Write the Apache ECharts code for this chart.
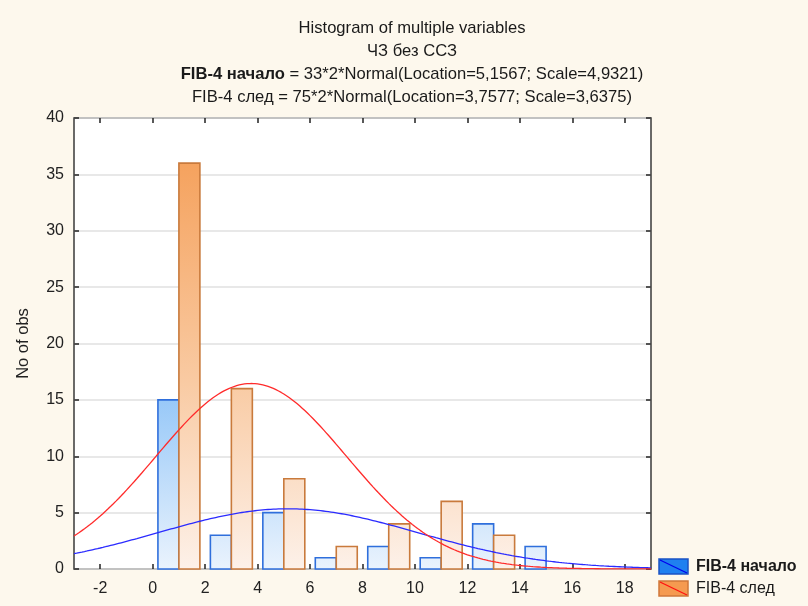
<!DOCTYPE html>
<html>
<head>
<meta charset="utf-8">
<script src="https://cdn.jsdelivr.net/npm/echarts@6/dist/echarts.min.js"></script>
<style>
  html, body { margin: 0; padding: 0; background: #fdf8ed; }
  #chart { width: 808px; height: 606px; }
</style>
</head>
<body>
<div id="chart"></div>
<script>
// Histogram bins (left edge of each 2-wide bin) and counts per variable
const binStarts = [0, 2, 4, 6, 8, 10, 12, 14];
const nachaloCounts = [15, 3, 5, 1, 2, 1, 4, 2];
const sledCounts = [36, 16, 8, 2, 4, 6, 3, 0];

// Fitted normal curves: N * binWidth * Normal(location, scale)
const nachaloFit = [33, 2, 5.1567, 4.9321];
const sledFit = [75, 2, 3.7577, 3.6375];

// Axis tick labels
const xTickValues = [-2, 0, 2, 4, 6, 8, 10, 12, 14, 16, 18];
const yTickValues = [0, 5, 10, 15, 20, 25, 30, 35, 40];

const titleLines = [
  'Histogram of multiple variables',
  'ЧЗ без ССЗ',
  'FIB-4 начало = 33*2*Normal(Location=5,1567; Scale=4,9321)',
  'FIB-4 след = 75*2*Normal(Location=3,7577; Scale=3,6375)'
];
const seriesNames = ['FIB-4 начало', 'FIB-4 след'];

const FONT = '"Liberation Sans", Arial, sans-serif';
const X_MIN = -3, X_MAX = 19, Y_MIN = 0, Y_MAX = 40;

function normalCurve(fit) {
  const [n, w, mu, sigma] = fit;
  const pts = [];
  for (let x = X_MIN; x <= X_MAX + 1e-9; x += 0.05) {
    const z = (x - mu) / sigma;
    pts.push([x, n * w * Math.exp(-0.5 * z * z) / (sigma * Math.sqrt(2 * Math.PI))]);
  }
  return pts;
}

function barRenderer(offA, offB, stops, stroke) {
  return function (params, api) {
    const x0 = api.value(0);
    const v = api.value(1);
    if (!(v > 0)) return null;
    const p0 = api.coord([x0 + offA, v]);
    const p1 = api.coord([x0 + offB, 0]);
    const top = api.coord([0, Y_MAX])[1];
    const bottom = api.coord([0, Y_MIN])[1];
    return {
      type: 'rect',
      shape: { x: p0[0], y: p0[1], width: p1[0] - p0[0], height: p1[1] - p0[1] },
      style: {
        fill: {
          type: 'linear', x: 0, y: top, x2: 0, y2: bottom, global: true,
          colorStops: stops
        },
        stroke: stroke,
        lineWidth: 1.6
      }
    };
  };
}

const blueStops = [
  { offset: 0, color: '#4f9cf4' },
  { offset: 0.62, color: '#97c8f8' },
  { offset: 1, color: '#eaf3fd' }
];
const orangeStops = [
  { offset: 0, color: '#f49a50' },
  { offset: 0.58, color: '#f9caa2' },
  { offset: 1, color: '#fdf1e9' }
];

const chart = echarts.init(document.getElementById('chart'), null, { renderer: 'canvas' });

const axisCommon = { fontFamily: FONT, fontSize: 16, color: '#222' };
const TITLE_FONT = '16.6px ' + FONT;

chart.setOption({
  backgroundColor: '#fdf8ed',
  animation: false,
  grid: {
    left: 74, right: 157, top: 118, bottom: 37,
    show: true, backgroundColor: '#ffffff', borderColor: '#3a3a3a', borderWidth: 1.5
  },
  xAxis: [
    {
      type: 'value', min: X_MIN, max: X_MAX,
      axisLine: { show: false, onZero: false },
      axisTick: { show: true, inside: true, length: 5, customValues: xTickValues, lineStyle: { color: '#222', width: 1.5 } },
      axisLabel: Object.assign({ customValues: xTickValues, margin: 12 }, axisCommon),
      splitLine: { show: false }
    },
    {
      type: 'value', min: X_MIN, max: X_MAX, position: 'top',
      axisLine: { show: false, onZero: false },
      axisTick: { show: true, inside: true, length: 5, customValues: xTickValues, lineStyle: { color: '#222', width: 1.5 } },
      axisLabel: { show: false },
      splitLine: { show: false }
    }
  ],
  yAxis: [
    {
      type: 'value', min: Y_MIN, max: Y_MAX, interval: 5,
      name: 'No of obs', nameLocation: 'middle', nameGap: 42,
      nameTextStyle: { fontFamily: FONT, fontSize: 16.5, color: '#222' },
      axisLine: { show: false, onZero: false },
      axisTick: { show: true, inside: true, length: 5, customValues: yTickValues, lineStyle: { color: '#222', width: 1.5 } },
      axisLabel: Object.assign({ customValues: yTickValues, margin: 10 }, axisCommon),
      splitLine: { show: true, lineStyle: { color: '#e0e0e0', width: 1.5 } }
    },
    {
      type: 'value', min: Y_MIN, max: Y_MAX, interval: 5, position: 'right',
      axisLine: { show: false, onZero: false },
      axisTick: { show: true, inside: true, length: 5, customValues: yTickValues, lineStyle: { color: '#222', width: 1.5 } },
      axisLabel: { show: false },
      splitLine: { show: false }
    }
  ],
  series: [
    {
      name: seriesNames[0], type: 'custom',
      renderItem: barRenderer(0.2, 1.0, blueStops, '#2f6fdc'),
      encode: { x: 0, y: 1 },
      data: binStarts.map((b, i) => [b, nachaloCounts[i]]),
      z: 2
    },
    {
      name: seriesNames[1], type: 'custom',
      renderItem: barRenderer(1.0, 1.8, orangeStops, '#c97a3c'),
      encode: { x: 0, y: 1 },
      data: binStarts.map((b, i) => [b, sledCounts[i]]),
      z: 2
    },
    {
      name: seriesNames[0] + ' fit', type: 'line', showSymbol: false, smooth: false,
      data: normalCurve(nachaloFit),
      lineStyle: { color: '#2b2bff', width: 1.3 }, z: 3
    },
    {
      name: seriesNames[1] + ' fit', type: 'line', showSymbol: false, smooth: false,
      data: normalCurve(sledFit),
      lineStyle: { color: '#ff2b2b', width: 1.3 }, z: 3
    }
  ],
  graphic: [
    { type: 'text', x: 412, y: 28, style: { text: titleLines[0], font: TITLE_FONT, fill: '#1a1a1a', align: 'center', verticalAlign: 'middle' } },
    { type: 'text', x: 412, y: 51, style: { text: titleLines[1], font: TITLE_FONT, fill: '#1a1a1a', align: 'center', verticalAlign: 'middle' } },
    {
      type: 'text', x: 412, y: 74,
      style: {
        text: '{b|' + seriesNames[0] + '}' + titleLines[2].slice(seriesNames[0].length),
        font: TITLE_FONT, fill: '#1a1a1a', align: 'center', verticalAlign: 'middle',
        rich: { b: { font: 'bold ' + TITLE_FONT, fill: '#1a1a1a' } }
      }
    },
    { type: 'text', x: 412, y: 97, style: { text: titleLines[3], font: TITLE_FONT, fill: '#1a1a1a', align: 'center', verticalAlign: 'middle' } },

    // Legend
    { type: 'rect', shape: { x: 659, y: 559, width: 29, height: 15 }, style: { fill: '#1f80f0', stroke: '#1a52c4', lineWidth: 1.5 } },
    { type: 'line', shape: { x1: 660, y1: 560, x2: 687, y2: 573 }, style: { stroke: '#0000ee', lineWidth: 1.3 } },
    { type: 'text', x: 696, y: 567, style: { text: seriesNames[0], font: 'bold 16px ' + FONT, fill: '#1a1a1a', verticalAlign: 'middle' } },
    { type: 'rect', shape: { x: 659, y: 581, width: 29, height: 15 }, style: { fill: '#f59a50', stroke: '#d0773a', lineWidth: 1.5 } },
    { type: 'line', shape: { x1: 660, y1: 582, x2: 687, y2: 595 }, style: { stroke: '#ff1010', lineWidth: 1.3 } },
    { type: 'text', x: 696, y: 589, style: { text: seriesNames[1], font: '16px ' + FONT, fill: '#1a1a1a', verticalAlign: 'middle' } }
  ]
});
</script>
</body>
</html>
